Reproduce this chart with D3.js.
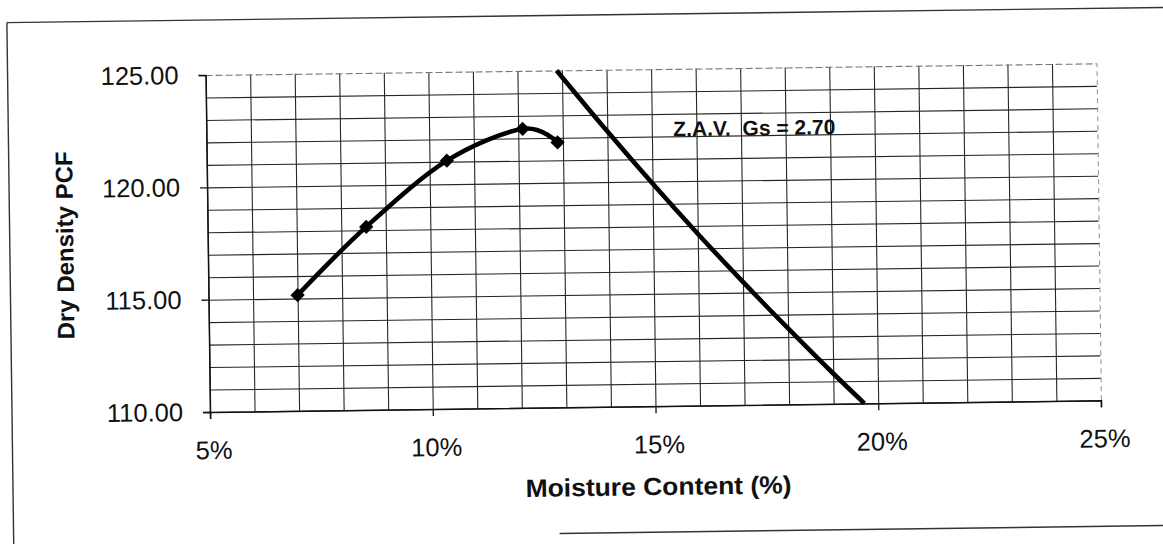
<!DOCTYPE html>
<html>
<head>
<meta charset="utf-8">
<script src="https://cdn.jsdelivr.net/npm/d3@7"></script>
<style>
  html, body { margin: 0; padding: 0; background: #fff; }
  svg { display: block; }
  text { font-family: "Liberation Sans", Arial, sans-serif; fill: #111; }
</style>
</head>
<body>
<svg id="chart" width="1163" height="544"></svg>
<script>
// Compaction test: moisture content (%) vs dry density (pcf)
const moisture = [7.0, 8.56, 10.39, 12.1, 12.88];
const dryDensity = [115.15, 118.15, 121.05, 122.42, 121.8];

// Zero-air-voids curve, Gs = 2.70
const zavMoisture = [12.88, 14, 15, 16, 17, 18, 19, 19.69];
const zavDensity = [125.0, 122.26, 119.91, 117.65, 115.48, 113.38, 111.35, 110.0];

const xTickValues = [5, 10, 15, 20, 25];
const yTickValues = [110, 115, 120, 125];
const xDomain = [5, 25];
const yDomain = [110, 125];

const svg = d3.select("#chart");
const plotLeft = 210, plotRight = 1101, plotTop = 75, plotBottom = 412;

// the printed page sits slightly skewed
const page = svg.append("g").attr("transform", `rotate(-0.75, ${plotLeft}, ${plotBottom})`);

// outer chart frame
const frame = page.append("g").attr("fill", "none").attr("stroke", "#333").attr("stroke-width", 1.4);
frame.append("line").attr("x1", 12).attr("y1", 20).attr("x2", 1250).attr("y2", 20);
frame.append("line").attr("x1", 12).attr("y1", 20).attr("x2", 12).attr("y2", 620);
frame.append("line").attr("x1", 558).attr("y1", 538).attr("x2", 1250).attr("y2", 538);

const x = d3.scaleLinear().domain(xDomain).range([plotLeft, plotRight]);
const y = d3.scaleLinear().domain(yDomain).range([plotBottom, plotTop]);

// grid: every 1% and every 1 pcf
const gridX = page.append("g")
  .attr("transform", `translate(0,${plotBottom})`)
  .call(d3.axisBottom(x).tickValues(d3.range(xDomain[0], xDomain[1] + 1, 1)).tickSize(-(plotBottom - plotTop)).tickFormat(""));
const gridY = page.append("g")
  .attr("transform", `translate(${plotLeft},0)`)
  .call(d3.axisLeft(y).tickValues(d3.range(yDomain[0], yDomain[1] + 1, 1)).tickSize(-(plotRight - plotLeft)).tickFormat(""));
[gridX, gridY].forEach(g => {
  g.select(".domain").remove();
  g.selectAll(".tick line").attr("stroke", "#262626").attr("stroke-width", 1.1);
});
// top and right plot edges look faint
gridY.selectAll(".tick").filter(d => d === yDomain[1]).select("line")
  .attr("stroke", "#777").attr("stroke-dasharray", "7,3");
gridX.selectAll(".tick").filter(d => d === xDomain[1]).select("line")
  .attr("stroke", "#999").attr("stroke-dasharray", "5,4");

// axes
const xAxis = page.append("g")
  .attr("transform", `translate(0,${plotBottom})`)
  .call(d3.axisBottom(x).tickValues(xTickValues).tickSize(7).tickPadding(22).tickFormat(d => d + "%"));
const yAxis = page.append("g")
  .attr("transform", `translate(${plotLeft},0)`)
  .call(d3.axisLeft(y).tickValues(yTickValues).tickSize(7).tickPadding(20).tickFormat(d3.format(".2f")));
[xAxis, yAxis].forEach(g => {
  g.select(".domain").attr("stroke", "#111").attr("stroke-width", 1.5);
  g.selectAll(".tick line").attr("stroke", "#111").attr("stroke-width", 1.3);
  g.selectAll(".tick text").style("font-size", "25.5px").attr("fill", "#111");
});
xAxis.selectAll(".tick text").attr("dx", 3);

// axis titles
page.append("text")
  .attr("x", (plotLeft + plotRight) / 2 + 2)
  .attr("y", 492)
  .attr("text-anchor", "middle")
  .attr("dominant-baseline", "central")
  .attr("textLength", 266)
  .attr("lengthAdjust", "spacingAndGlyphs")
  .style("font-size", "25px").style("font-weight", "bold")
  .text("Moisture Content (%)");
page.append("text")
  .attr("transform", `translate(67,${(plotTop + plotBottom) / 2}) rotate(-90)`)
  .attr("text-anchor", "middle")
  .attr("dominant-baseline", "central")
  .style("font-size", "24px").style("font-weight", "bold")
  .text("Dry Density PCF");

// zero-air-voids line
const zavPts = zavMoisture.map((m, i) => [m, zavDensity[i]]);
page.append("path")
  .datum(zavPts)
  .attr("fill", "none").attr("stroke", "#000").attr("stroke-width", 4.6)
  .attr("d", d3.line().x(d => x(d[0])).y(d => y(d[1])).curve(d3.curveMonotoneX));

page.append("text")
  .attr("x", x(15.48))
  .attr("y", y(122.0))
  .style("font-size", "21px").style("font-weight", "bold")
  .attr("xml:space", "preserve")
  .text("Z.A.V.  Gs = 2.70");

// compaction curve with diamond markers
const pts = moisture.map((m, i) => [m, dryDensity[i]]);
page.append("path")
  .datum(pts)
  .attr("fill", "none").attr("stroke", "#000").attr("stroke-width", 4.6)
  .attr("stroke-linejoin", "round")
  .attr("d", d3.line().x(d => x(d[0])).y(d => y(d[1])).curve(d3.curveCardinal));

page.append("g").selectAll("path")
  .data(pts)
  .join("path")
  .attr("transform", d => `translate(${x(d[0])},${y(d[1])})`)
  .attr("d", d3.symbol(d3.symbolDiamond2, 130)())
  .attr("fill", "#000");
</script>
</body>
</html>
